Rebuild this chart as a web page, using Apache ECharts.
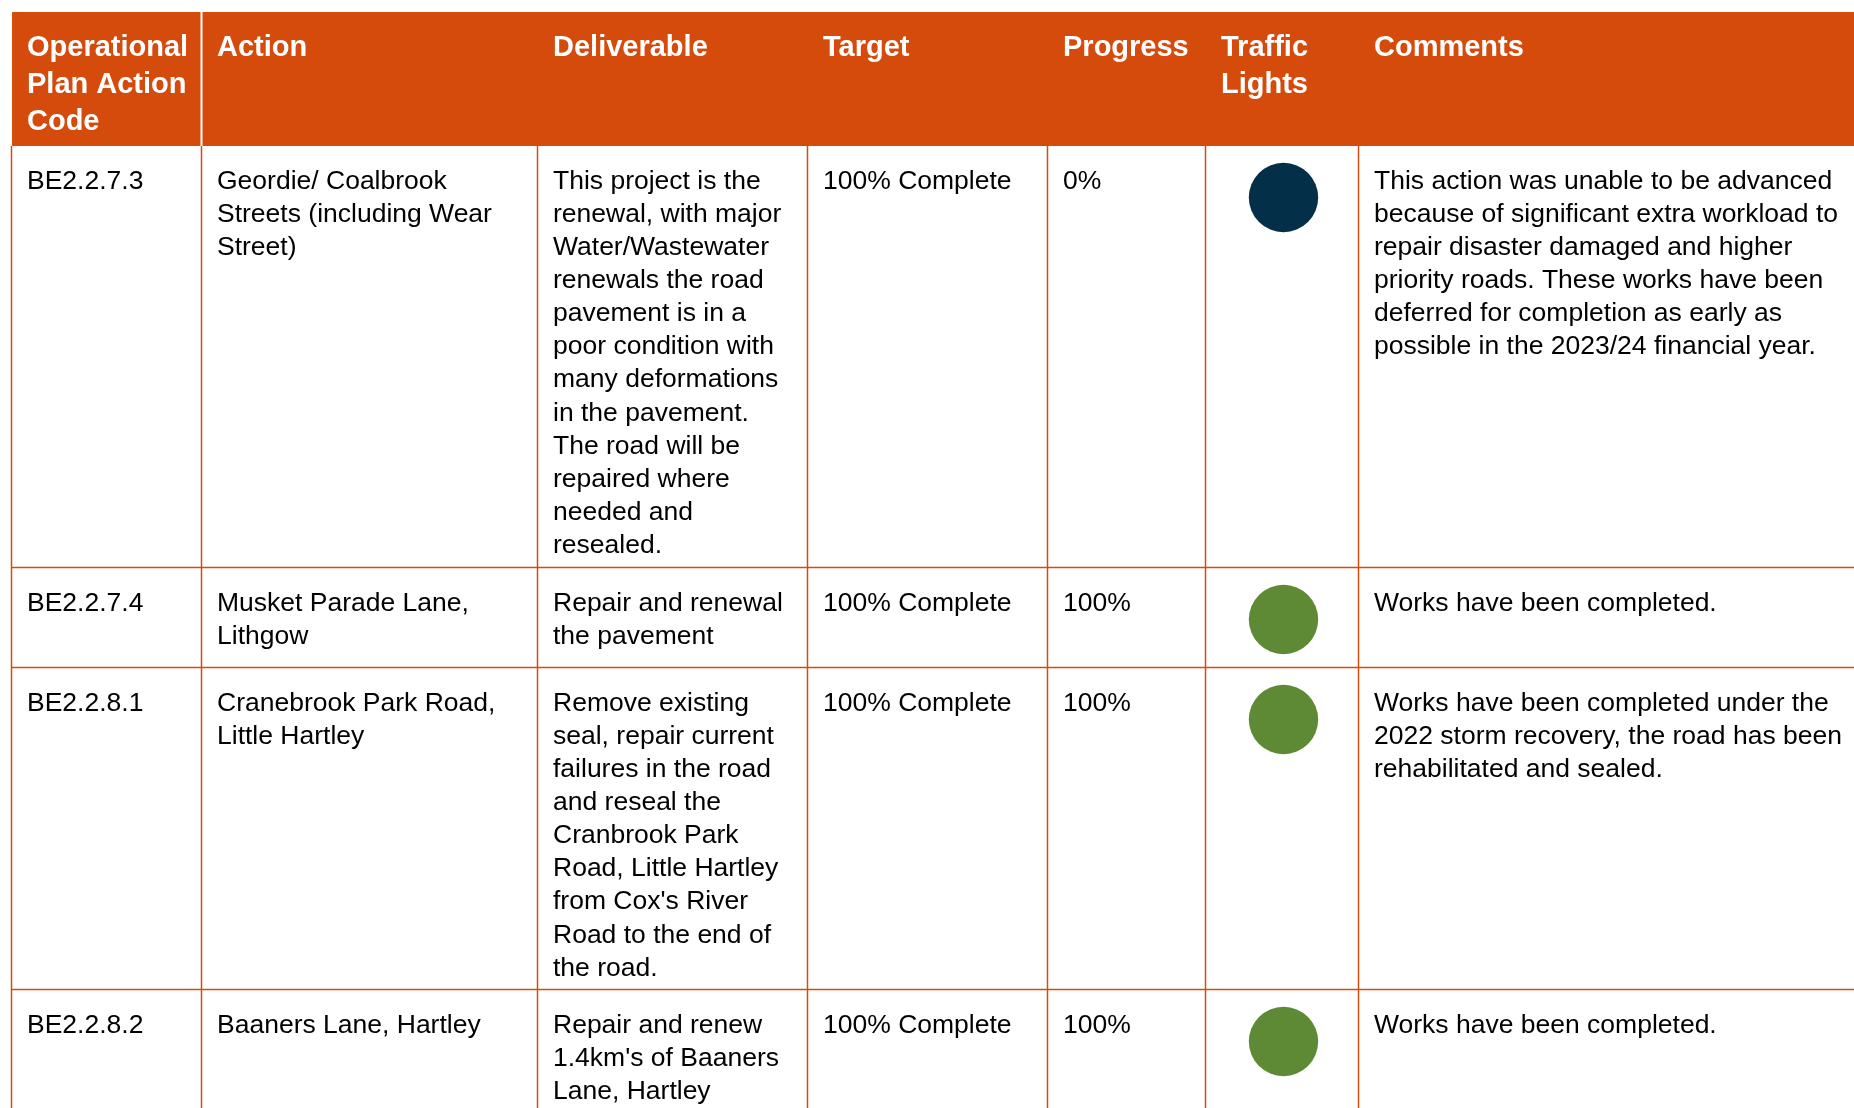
<!DOCTYPE html>
<html>
<head>
<meta charset="utf-8">
<script src="https://cdn.jsdelivr.net/npm/echarts@6/dist/echarts.min.js"></script>
<style>
html,body{margin:0;padding:0;background:#fff;}
#chart{width:1854px;height:1108px;}
</style>
</head>
<body>
<div id="chart"></div>
<script>
// ---------- data ----------
const headers = ['Operational\nPlan Action\nCode', 'Action', 'Deliverable', 'Target', 'Progress', 'Traffic\nLights', 'Comments'];
const codes = ['BE2.2.7.3', 'BE2.2.7.4', 'BE2.2.8.1', 'BE2.2.8.2'];
const actions = [
  'Geordie/ Coalbrook\nStreets (including Wear\nStreet)',
  'Musket Parade Lane,\nLithgow',
  'Cranebrook Park Road,\nLittle Hartley',
  'Baaners Lane, Hartley'
];
const deliverables = [
  'This project is the\nrenewal, with major\nWater/Wastewater\nrenewals the road\npavement is in a\npoor condition with\nmany deformations\nin the pavement.\nThe road will be\nrepaired where\nneeded and\nresealed.',
  'Repair and renewal\nthe pavement',
  'Remove existing\nseal, repair current\nfailures in the road\nand reseal the\nCranbrook Park\nRoad, Little Hartley\nfrom Cox\'s River\nRoad to the end of\nthe road.',
  'Repair and renew\n1.4km\'s of Baaners\nLane, Hartley'
];
const targets = ['100% Complete', '100% Complete', '100% Complete', '100% Complete'];
const progress = [0, 100, 100, 100];
const trafficLights = ['notStarted', 'complete', 'complete', 'complete'];
const comments = [
  'This action was unable to be advanced\nbecause of significant extra workload to\nrepair disaster damaged and higher\npriority roads. These works have been\ndeferred for completion as early as\npossible in the 2023/24 financial year.',
  'Works have been completed.',
  'Works have been completed under the\n2022 storm recovery, the road has been\nrehabilitated and sealed.',
  'Works have been completed.'
];

// ---------- layout & style ----------
const colEdges = [12, 202, 538, 808, 1048, 1206, 1359, 1900];
const rowEdges = [12, 146, 568, 668, 990, 1150];
const ORANGE = '#D54B0C';
const lightColors = { notStarted: '#033048', complete: '#5E8A35' };
const FONT = 'Liberation Sans';

const chart = echarts.init(document.getElementById('chart'));

const headerData = headers.map((h, c) => [c]);
const bodyData = [];
for (let r = 0; r < codes.length; r++) {
  for (let c = 0; c < 7; c++) {
    if (c === 5) continue;
    bodyData.push([c, r]);
  }
}
function cellText(c, r) {
  switch (c) {
    case 0: return codes[r];
    case 1: return actions[r];
    case 2: return deliverables[r];
    case 3: return targets[r];
    case 4: return progress[r] + '%';
    case 6: return comments[r];
  }
  return '';
}
const lightData = trafficLights.map((s, r) => [5, r]);

chart.setOption({
  animation: false,
  grid: { left: 0, right: 0, top: 0, bottom: 0 },
  xAxis: { type: 'value', min: 0, max: 1854, show: false },
  yAxis: { type: 'value', min: 0, max: 1108, inverse: true, show: false },
  series: [
    {
      type: 'custom',
      name: 'header',
      data: headerData,
      renderItem: function (params, api) {
        const c = api.value(0);
        const p0 = api.coord([colEdges[c], rowEdges[0]]);
        const p1 = api.coord([colEdges[c + 1], rowEdges[1]]);
        const children = [
          { type: 'rect', shape: { x: p0[0], y: p0[1], width: p1[0] - p0[0] + 1, height: p1[1] - p0[1] }, style: { fill: ORANGE } },
          { type: 'text', x: p0[0] + 15, y: p0[1] + 18,
            style: { text: headers[c], fill: '#fff', fontFamily: FONT, fontSize: 29, fontWeight: 'bold', lineHeight: 36.7, verticalAlign: 'top', align: 'left' } }
        ];
        if (c === 1) {
          children.push({ type: 'line', shape: { x1: p0[0] - 0.5, y1: p0[1], x2: p0[0] - 0.5, y2: p1[1] }, style: { stroke: '#fff', lineWidth: 2 } });
        }
        return { type: 'group', children: children };
      }
    },
    {
      type: 'custom',
      name: 'body',
      data: bodyData,
      renderItem: function (params, api) {
        const c = api.value(0), r = api.value(1);
        const p0 = api.coord([colEdges[c], rowEdges[r + 1]]);
        return {
          type: 'text', x: p0[0] + 15, y: p0[1] + 19,
          style: { text: cellText(c, r), fill: '#000', fontFamily: FONT, fontSize: 26.5, lineHeight: 33.1, verticalAlign: 'top', align: 'left' }
        };
      }
    },
    {
      type: 'custom',
      name: 'grid lines',
      data: [[0]],
      renderItem: function (params, api) {
        const children = [];
        const top = api.coord([0, rowEdges[1]])[1];
        const bottom = api.coord([0, rowEdges[rowEdges.length - 1]])[1];
        const left = api.coord([colEdges[0], 0])[0];
        const right = api.coord([colEdges[colEdges.length - 1], 0])[0];
        for (let i = 0; i < colEdges.length - 1; i++) {
          const x = api.coord([colEdges[i], 0])[0] - 0.5;
          children.push({ type: 'line', shape: { x1: x, y1: top, x2: x, y2: bottom }, style: { stroke: ORANGE, lineWidth: 1.5 } });
        }
        for (let j = 2; j < rowEdges.length; j++) {
          const y = api.coord([0, rowEdges[j]])[1] - 0.5;
          children.push({ type: 'line', shape: { x1: left, y1: y, x2: right, y2: y }, style: { stroke: ORANGE, lineWidth: 1.5 } });
        }
        return { type: 'group', children: children };
      }
    },
    {
      type: 'custom',
      name: 'traffic lights',
      data: lightData,
      renderItem: function (params, api) {
        const c = api.value(0), r = api.value(1);
        const cx = api.coord([(colEdges[c] + colEdges[c + 1]) / 2 + 1, 0])[0];
        const cy = api.coord([0, rowEdges[r + 1] + 51.5])[1];
        return { type: 'circle', shape: { cx: cx, cy: cy, r: 34.7 }, style: { fill: lightColors[trafficLights[r]] } };
      }
    }
  ]
});
</script>
</body>
</html>
